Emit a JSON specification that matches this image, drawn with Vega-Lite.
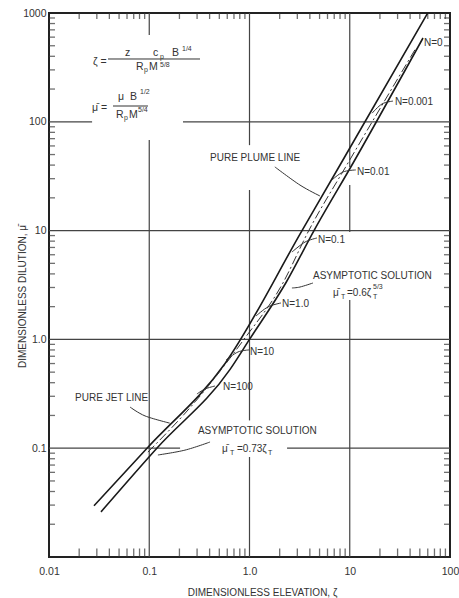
{
  "$schema": "https://vega.github.io/schema/vega-lite/v6.json",
  "width": 401,
  "height": 544,
  "autosize": {"type": "none"},
  "padding": {"left": 49, "top": 13, "right": 9, "bottom": 41},
  "background": "white",
  "config": {"view": {"stroke": "#222", "strokeWidth": 2}, "font": "Liberation Sans"},
  "datasets": {
    "xt": [{"v": 0.02},{"v": 0.03},{"v": 0.04},{"v": 0.05},{"v": 0.06},{"v": 0.07},{"v": 0.08},{"v": 0.09},
           {"v": 0.2},{"v": 0.3},{"v": 0.4},{"v": 0.5},{"v": 0.6},{"v": 0.7},{"v": 0.8},{"v": 0.9},
           {"v": 2},{"v": 3},{"v": 4},{"v": 5},{"v": 6},{"v": 7},{"v": 8},{"v": 9},
           {"v": 20},{"v": 30},{"v": 40},{"v": 50},{"v": 60},{"v": 70},{"v": 80},{"v": 90}],
    "yt": [{"v": 0.02},{"v": 0.03},{"v": 0.04},{"v": 0.05},{"v": 0.06},{"v": 0.07},{"v": 0.08},{"v": 0.09},
           {"v": 0.2},{"v": 0.3},{"v": 0.4},{"v": 0.5},{"v": 0.6},{"v": 0.7},{"v": 0.8},{"v": 0.9},
           {"v": 2},{"v": 3},{"v": 4},{"v": 5},{"v": 6},{"v": 7},{"v": 8},{"v": 9},
           {"v": 20},{"v": 30},{"v": 40},{"v": 50},{"v": 60},{"v": 70},{"v": 80},{"v": 90},
           {"v": 200},{"v": 300},{"v": 400},{"v": 500},{"v": 600},{"v": 700},{"v": 800},{"v": 900}],
    "grid": [
      {"x1": 0.01, "y1": 100, "x2": 0.0269, "y2": 100},
      {"x1": 0.217, "y1": 100, "x2": 100, "y2": 100},
      {"x1": 0.01, "y1": 10, "x2": 100, "y2": 10},
      {"x1": 0.01, "y1": 1, "x2": 100, "y2": 1},
      {"x1": 0.01, "y1": 0.1, "x2": 0.203, "y2": 0.1},
      {"x1": 2.37, "y1": 0.1, "x2": 100, "y2": 0.1},
      {"x1": 0.1, "y1": 1000, "x2": 0.1, "y2": 628},
      {"x1": 0.1, "y1": 68, "x2": 0.1, "y2": 0.01},
      {"x1": 1, "y1": 1000, "x2": 1, "y2": 61},
      {"x1": 1, "y1": 23.6, "x2": 1, "y2": 0.18},
      {"x1": 1, "y1": 0.083, "x2": 1, "y2": 0.01},
      {"x1": 10, "y1": 1000, "x2": 10, "y2": 38.4},
      {"x1": 10, "y1": 26.2, "x2": 10, "y2": 9.7},
      {"x1": 10, "y1": 2.3, "x2": 10, "y2": 0.01}
    ],
    "bars": [
      {"x1": 0.03878, "y1": 377.8, "x2": 0.3208, "y2": 377.8},
      {"x1": 0.0435, "y1": 139.7, "x2": 0.09716, "y2": 139.7}
    ],
    "lines": [
      {"s": "upper", "i": 1, "x": 0.0281, "y": 0.0296},
      {"s": "upper", "i": 2, "x": 0.095, "y": 0.1},
      {"s": "upper", "i": 3, "x": 0.568, "y": 0.598},
      {"s": "upper", "i": 4, "x": 3.34, "y": 10},
      {"s": "upper", "i": 5, "x": 8.0, "y": 40.1},
      {"s": "upper", "i": 6, "x": 60, "y": 1000},
      {"s": "lower", "i": 1, "x": 0.033, "y": 0.026},
      {"s": "lower", "i": 2, "x": 0.119, "y": 0.1},
      {"s": "lower", "i": 3, "x": 0.64, "y": 0.53},
      {"s": "lower", "i": 4, "x": 1.0, "y": 1.0},
      {"s": "lower", "i": 5, "x": 2.3, "y": 3.3},
      {"s": "lower", "i": 6, "x": 4.4, "y": 10},
      {"s": "lower", "i": 7, "x": 10.8, "y": 41.8},
      {"s": "lower", "i": 8, "x": 53.8, "y": 589}
    ],
    "asym": [
      {"i": 1, "x": 0.097, "y": 0.092},
      {"i": 2, "x": 0.29, "y": 0.27},
      {"i": 3, "x": 0.88, "y": 1.0},
      {"i": 4, "x": 2.1, "y": 3.16},
      {"i": 5, "x": 3.9, "y": 10},
      {"i": 6, "x": 9.6, "y": 41.8},
      {"i": 7, "x": 46, "y": 480}
    ],
    "arcs": [
      {"id": "N0.001", "i": 1, "x": 16.7, "y": 120},
      {"id": "N0.001", "i": 2, "x": 21.0, "y": 146},
      {"id": "N0.001", "i": 3, "x": 27.0, "y": 155},
      {"id": "N0.01", "i": 1, "x": 6.65, "y": 29.2},
      {"id": "N0.01", "i": 2, "x": 8.57, "y": 34.6},
      {"id": "N0.01", "i": 3, "x": 11.5, "y": 36.1},
      {"id": "N0.1", "i": 1, "x": 2.65, "y": 6.35},
      {"id": "N0.1", "i": 2, "x": 3.58, "y": 7.85},
      {"id": "N0.1", "i": 3, "x": 4.71, "y": 8.55},
      {"id": "N1", "i": 1, "x": 1.16, "y": 1.64},
      {"id": "N1", "i": 2, "x": 1.53, "y": 1.99},
      {"id": "N1", "i": 3, "x": 2.06, "y": 2.16},
      {"id": "N10", "i": 1, "x": 0.583, "y": 0.648},
      {"id": "N10", "i": 2, "x": 0.767, "y": 0.766},
      {"id": "N10", "i": 3, "x": 0.989, "y": 0.8},
      {"id": "N100", "i": 1, "x": 0.299, "y": 0.315},
      {"id": "N100", "i": 2, "x": 0.36, "y": 0.35},
      {"id": "N100", "i": 3, "x": 0.453, "y": 0.373},
      {"id": "plume", "i": 1, "x": 1.79, "y": 38.5},
      {"id": "plume", "i": 2, "x": 3.19, "y": 26.2},
      {"id": "plume", "i": 3, "x": 5.05, "y": 20.8},
      {"id": "jet", "i": 1, "x": 0.0643, "y": 0.239},
      {"id": "jet", "i": 2, "x": 0.0908, "y": 0.198},
      {"id": "jet", "i": 3, "x": 0.16, "y": 0.17},
      {"id": "asl", "i": 1, "x": 0.404, "y": 0.114},
      {"id": "asl", "i": 2, "x": 0.227, "y": 0.096},
      {"id": "asl", "i": 3, "x": 0.122, "y": 0.0866},
      {"id": "asu", "i": 1, "x": 4.3, "y": 3.3},
      {"id": "asu", "i": 2, "x": 3.19, "y": 3.03},
      {"id": "asu", "i": 3, "x": 2.65, "y": 2.97}
    ],
    "labels": [
      {"t": "N=0", "x": 55, "y": 530},
      {"t": "N=0.001", "x": 28.2, "y": 152},
      {"t": "N=0.01", "x": 11.8, "y": 34.6},
      {"t": "N=0.1", "x": 4.82, "y": 8.2},
      {"t": "N=1.0", "x": 2.11, "y": 2.11},
      {"t": "N=10", "x": 1.01, "y": 0.766},
      {"t": "N=100", "x": 0.545, "y": 0.366},
      {"t": "PURE PLUME LINE", "x": 0.404, "y": 46.5},
      {"t": "PURE JET LINE", "x": 0.0182, "y": 0.289},
      {"t": "ASYMPTOTIC SOLUTION", "x": 4.3, "y": 3.83},
      {"t": "ASYMPTOTIC SOLUTION", "x": 0.306, "y": 0.144},
      {"t": "μ̄", "x": 6.81, "y": 2.67},
      {"t": "=0.6ζ", "x": 9.39, "y": 2.67},
      {"t": "μ̄", "x": 0.532, "y": 0.0984},
      {"t": "=0.73ζ", "x": 0.75, "y": 0.0984}
    ],
    "eq": [
      {"t": "ζ =", "x": 0.02748, "y": 354.5},
      {"t": "z", "x": 0.05729, "y": 428.9},
      {"t": "c", "x": 0.109, "y": 428.9},
      {"t": "B", "x": 0.1686, "y": 428.9},
      {"t": "R", "x": 0.0738, "y": 318.9},
      {"t": "M", "x": 0.0994, "y": 318.9},
      {"t": "μ̄ =", "x": 0.02685, "y": 133.9},
      {"t": "μ", "x": 0.0488, "y": 169.1},
      {"t": "B", "x": 0.06427, "y": 169.1},
      {"t": "R", "x": 0.0466, "y": 115.5},
      {"t": "M", "x": 0.0628, "y": 115.5}
    ],
    "small": [
      {"t": "T", "x": 8.18, "y": 2.45},
      {"t": "T", "x": 17.06, "y": 2.45},
      {"t": "5/3", "x": 17.06, "y": 3.03},
      {"t": "T", "x": 0.639, "y": 0.0903},
      {"t": "T", "x": 1.53, "y": 0.0903},
      {"t": "p", "x": 0.128, "y": 394},
      {"t": "1/4", "x": 0.2122, "y": 466.9},
      {"t": "p", "x": 0.0886, "y": 299.4},
      {"t": "5/8", "x": 0.128, "y": 332.7},
      {"t": "1/2", "x": 0.08085, "y": 187.9},
      {"t": "p", "x": 0.05598, "y": 108.4},
      {"t": "5/4", "x": 0.0772, "y": 128.3}
    ]
  },
  "layer": [
    {
      "data": {"name": "grid"},
      "mark": {"type": "rule", "color": "#444", "strokeWidth": 1.2},
      "encoding": {
        "x": {"field": "x1", "type": "quantitative", "scale": {"type": "log", "domain": [0.01, 100], "nice": false},
          "axis": {"orient": "bottom", "values": [0.01, 0.1, 1, 10, 100],
            "labelExpr": "datum.value == 0.01 ? '0.01' : datum.value == 0.1 ? '0.1' : datum.value == 1 ? '1.0' : datum.value == 10 ? '10' : '100'",
            "domain": false, "grid": false, "ticks": false, "tickSize": 0,
            "labelPadding": 9, "labelFontSize": 10.5, "labelColor": "#333", "labelFlush": false, "labelOverlap": false,
            "title": "DIMENSIONLESS ELEVATION, ζ", "titleFontSize": 10, "titleFontWeight": "normal", "titleColor": "#333",
            "titleX": 213, "titleY": 35, "titleBaseline": "middle", "titleAnchor": "middle"}},
        "x2": {"field": "x2"},
        "y": {"field": "y1", "type": "quantitative", "scale": {"type": "log", "domain": [0.01, 1000], "nice": false},
          "axis": {"orient": "left", "values": [0.1, 1, 10, 100, 1000],
            "labelExpr": "datum.value == 1000 ? '1000' : datum.value == 100 ? '100' : datum.value == 10 ? '10' : datum.value == 1 ? '1.0' : '0.1'",
            "domain": false, "grid": false, "ticks": false, "tickSize": 0,
            "labelPadding": 3, "labelFontSize": 10.5, "labelColor": "#333", "labelOverlap": false,
            "title": "DIMENSIONLESS DILUTION, μ̄", "titleFontSize": 10, "titleFontWeight": "normal", "titleColor": "#333",
            "titleX": -27, "titleY": 283, "titleBaseline": "middle", "titleAnchor": "middle"}},
        "y2": {"field": "y2"}
      }
    },
    {
      "data": {"name": "xt"},
      "mark": {"type": "tick", "orient": "vertical", "color": "#333", "thickness": 1.3, "size": 17, "clip": true},
      "encoding": {
        "x": {"field": "v", "type": "quantitative", "scale": {"type": "log", "domain": [0.01, 100], "nice": false}},
        "y": {"datum": 0.01, "type": "quantitative", "scale": {"type": "log", "domain": [0.01, 1000], "nice": false}}
      }
    },
    {
      "data": {"name": "xt"},
      "mark": {"type": "tick", "orient": "vertical", "color": "#333", "thickness": 1.3, "size": 12, "clip": true},
      "encoding": {
        "x": {"field": "v", "type": "quantitative", "scale": {"type": "log", "domain": [0.01, 100], "nice": false}},
        "y": {"datum": 1000, "type": "quantitative", "scale": {"type": "log", "domain": [0.01, 1000], "nice": false}}
      }
    },
    {
      "data": {"name": "yt"},
      "mark": {"type": "tick", "orient": "horizontal", "color": "#333", "thickness": 1.3, "size": 12, "clip": true},
      "encoding": {
        "y": {"field": "v", "type": "quantitative", "scale": {"type": "log", "domain": [0.01, 1000], "nice": false}},
        "x": {"datum": 0.01, "type": "quantitative", "scale": {"type": "log", "domain": [0.01, 100], "nice": false}}
      }
    },
    {
      "data": {"name": "yt"},
      "mark": {"type": "tick", "orient": "horizontal", "color": "#333", "thickness": 1.3, "size": 12, "clip": true},
      "encoding": {
        "y": {"field": "v", "type": "quantitative", "scale": {"type": "log", "domain": [0.01, 1000], "nice": false}},
        "x": {"datum": 100, "type": "quantitative", "scale": {"type": "log", "domain": [0.01, 100], "nice": false}}
      }
    },
    {
      "data": {"name": "lines"},
      "mark": {"type": "line", "color": "#1a1a1a", "strokeWidth": 1.6, "interpolate": "monotone", "clip": true},
      "encoding": {
        "x": {"field": "x", "type": "quantitative", "scale": {"type": "log", "domain": [0.01, 100], "nice": false}},
        "y": {"field": "y", "type": "quantitative", "scale": {"type": "log", "domain": [0.01, 1000], "nice": false}},
        "detail": {"field": "s"},
        "order": {"field": "i"}
      }
    },
    {
      "data": {"name": "asym"},
      "mark": {"type": "line", "color": "#333", "strokeWidth": 1, "strokeDash": [9, 3, 2, 3], "interpolate": "monotone"},
      "encoding": {
        "x": {"field": "x", "type": "quantitative", "scale": {"type": "log", "domain": [0.01, 100], "nice": false}},
        "y": {"field": "y", "type": "quantitative", "scale": {"type": "log", "domain": [0.01, 1000], "nice": false}},
        "order": {"field": "i"}
      }
    },
    {
      "data": {"name": "arcs"},
      "mark": {"type": "line", "color": "#333", "strokeWidth": 1, "interpolate": "cardinal"},
      "encoding": {
        "x": {"field": "x", "type": "quantitative", "scale": {"type": "log", "domain": [0.01, 100], "nice": false}},
        "y": {"field": "y", "type": "quantitative", "scale": {"type": "log", "domain": [0.01, 1000], "nice": false}},
        "detail": {"field": "id"},
        "order": {"field": "i"}
      }
    },
    {
      "data": {"name": "bars"},
      "mark": {"type": "rule", "color": "#333", "strokeWidth": 1},
      "encoding": {
        "x": {"field": "x1", "type": "quantitative", "scale": {"type": "log", "domain": [0.01, 100], "nice": false}},
        "x2": {"field": "x2"},
        "y": {"field": "y1", "type": "quantitative", "scale": {"type": "log", "domain": [0.01, 1000], "nice": false}},
        "y2": {"field": "y2"}
      }
    },
    {
      "data": {"name": "labels"},
      "mark": {"type": "text", "align": "left", "baseline": "middle", "fontSize": 10, "color": "#333", "font": "Liberation Sans"},
      "encoding": {
        "x": {"field": "x", "type": "quantitative", "scale": {"type": "log", "domain": [0.01, 100], "nice": false}},
        "y": {"field": "y", "type": "quantitative", "scale": {"type": "log", "domain": [0.01, 1000], "nice": false}},
        "text": {"field": "t"}
      }
    },
    {
      "data": {"name": "eq"},
      "mark": {"type": "text", "align": "left", "baseline": "middle", "fontSize": 10.5, "color": "#333", "font": "Liberation Sans"},
      "encoding": {
        "x": {"field": "x", "type": "quantitative", "scale": {"type": "log", "domain": [0.01, 100], "nice": false}},
        "y": {"field": "y", "type": "quantitative", "scale": {"type": "log", "domain": [0.01, 1000], "nice": false}},
        "text": {"field": "t"}
      }
    },
    {
      "data": {"name": "small"},
      "mark": {"type": "text", "align": "left", "baseline": "middle", "fontSize": 7, "color": "#333", "font": "Liberation Sans"},
      "encoding": {
        "x": {"field": "x", "type": "quantitative", "scale": {"type": "log", "domain": [0.01, 100], "nice": false}},
        "y": {"field": "y", "type": "quantitative", "scale": {"type": "log", "domain": [0.01, 1000], "nice": false}},
        "text": {"field": "t"}
      }
    }
  ]
}
